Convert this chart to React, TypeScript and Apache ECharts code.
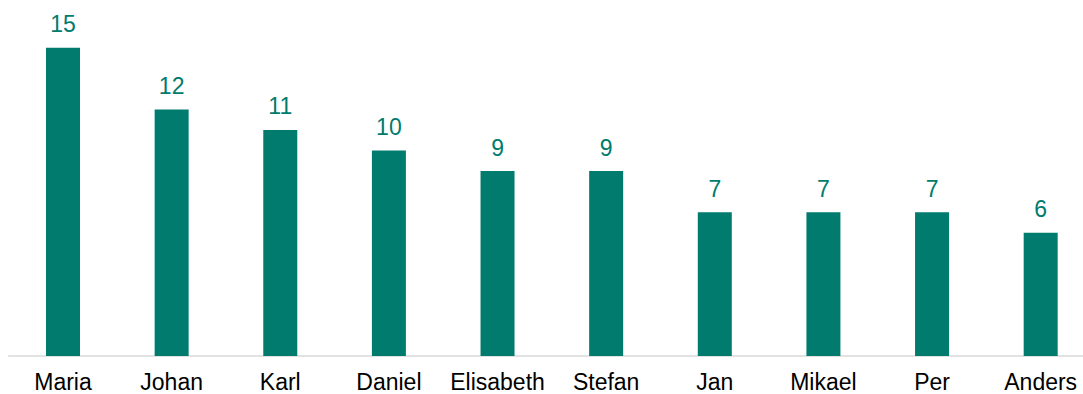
import React, { useEffect, useRef } from "react";
import * as echarts from "echarts";

const categories = ["Maria", "Johan", "Karl", "Daniel", "Elisabeth", "Stefan", "Jan", "Mikael", "Per", "Anders"];
const values = [15, 12, 11, 10, 9, 9, 7, 7, 7, 6];

const TEAL = "#007B6D";

export default function App() {
  const ref = useRef<HTMLDivElement>(null);
  useEffect(() => {
    if (!ref.current) return;
    const chart = echarts.init(ref.current, null, { renderer: "svg" });
    chart.setOption({
      animation: false,
      grid: { left: 8.7, right: 0, top: 27.2, bottom: 38 },
      xAxis: {
        type: "category",
        data: categories,
        axisLine: { show: true, lineStyle: { color: "#d9d9d9", width: 1.5 } },
        axisTick: { show: false },
        axisLabel: {
          color: "#000",
          fontFamily: "Liberation Sans, Arial, sans-serif",
          fontSize: 23,
          margin: 14,
          interval: 0,
        },
      },
      yAxis: {
        type: "value",
        min: 0,
        max: 16,
        show: false,
        splitLine: { show: false },
      },
      series: [
        {
          type: "bar",
          data: values,
          barWidth: 34,
          itemStyle: { color: TEAL },
          label: {
            show: true,
            position: "top",
            distance: 12,
            color: TEAL,
            fontFamily: "Liberation Sans, Arial, sans-serif",
            fontSize: 23,
          },
        },
      ],
    });
    return () => chart.dispose();
  }, []);
  return (
    <div style={{ position: "absolute", left: 0, top: 0, width: 1083, height: 394, overflow: "hidden" }}>
      <div ref={ref} style={{ width: 1095, height: 394 }} />
    </div>
  );
}
